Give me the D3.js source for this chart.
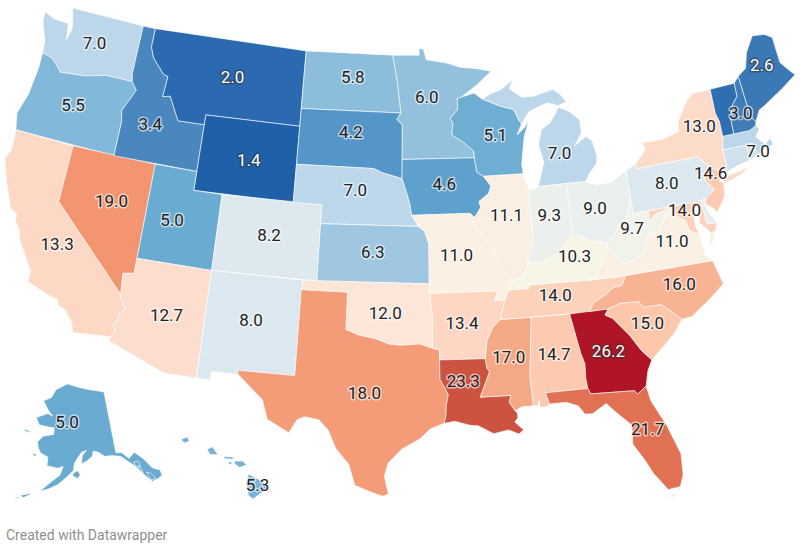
<!DOCTYPE html>
<html><head><meta charset="utf-8">
<script src="https://cdnjs.cloudflare.com/ajax/libs/d3/7.8.5/d3.min.js"></script>
<style>html,body{margin:0;background:#fff}svg{display:block}</style></head><body>
<svg id="c" width="800" height="550"></svg>
<script>
// ---- values ----
const stateCodes=["WA","OR","CA","NV","ID","MT","WY","UT","AZ","CO","NM","ND","SD","NE","KS","OK","TX","MN","IA","MO","AR","LA","WI","IL","MS","MI","IN","KY","TN","AL","OH","WV","GA","FL","SC","NC","VA","PA","NY","NJ","MD","DE","CT","RI","MA","VT","NH","ME","AK","HI"];
const stateValues=[7.0,5.5,13.3,19.0,3.4,2.0,1.4,5.0,12.7,8.2,8.0,5.8,4.2,7.0,6.3,12.0,18.0,6.0,4.6,11.0,13.4,23.3,5.1,11.1,17.0,7.0,9.3,10.3,14.0,14.7,9.0,9.7,26.2,21.7,15.0,16.0,11.0,8.0,13.0,14.6,14.0,9.0,7.6,7.6,7.0,2.2,3.0,2.6,5.0,5.3];
const unlabelled=["DE","CT","RI","VT"];
const colorStops=[1.4,2.0,2.6,3.0,3.4,4.2,5.0,5.5,6.0,7.0,8.0,9.0,10.3,11.0,12.0,13.0,14.0,15.0,16.0,17.0,18.0,19.0,21.7,23.3,26.2];
const colorRange=["#1f60a8","#2b69b0","#3a78b6","#3f7db9","#4a87bf","#5596c8","#6aabd2","#82b8d9","#93c0dd","#bcd7e9","#dbe8ef","#e9efee","#f7f5e6","#faf0e3","#fce6d8","#fddbc9","#fdd2bb","#fcc7ab","#f8b394","#f5a885","#f49c78","#f29570","#e07153","#cb5340","#b01427"];
const whiteText=["MT","WY","ME","GA"];
const labelAnchors={WA:[-120.4,47.5],OR:[-120.75,44.05],CA:[-119.4,36.85],NV:[-116.5,39.65],ID:[-114.95,44],MT:[-109.5,47.2],WY:[-107.5,43],UT:[-112.2,39.3],AZ:[-111.5,34.35],CO:[-105.5,39.2],NM:[-106.1,34.7],ND:[-100.3,47.8],SD:[-100.25,44.9],NE:[-99.75,41.85],KS:[-98.4,38.65],OK:[-97.5,35.5],TX:[-98.7,31.3],MN:[-94.6,46.8],IA:[-93.45,42.2],MO:[-92.75,38.5],AR:[-92.55,34.9],LA:[-92.6,31.9],WI:[-89.6,44.65],IL:[-89.2,40.4],MS:[-89.7,33],MI:[-85.05,43.4],IN:[-86.25,40.25],KY:[-84.85,37.95],TN:[-86.4,36.05],AL:[-86.85,33],OH:[-83.05,40.3],WV:[-80.75,39],GA:[-83.45,32.8],FL:[-81.75,28.5],SC:[-80.75,34],NC:[-78.3,35.7],VA:[-78.25,37.95],PA:[-77.85,41],NY:[-74.75,43.55],NJ:[-74.7,41.05],MD:[-77,39.45],MA:[-71.1,41.55],NH:[-71.6,43.7],ME:[-69.15,45.85],AK:[-156.6,65.5],HI:[-155.4,19.65]};
const footerText="Created with Datawrapper";

// ---- shared borders (lon,lat) ----
const mnwi="-92.01,46.71 -92.29,46.66 -92.29,46.08 -92.88,45.62 -92.68,45.38 -92.77,44.9 -92.8,44.75 -91.9,44.3 -91.25,43.85 -91.22,43.5";
const iawi="-91.1,42.75 -90.64,42.51";
const iail="-90.15,41.98 -90.34,41.6 -91.05,41.2 -90.95,40.9 -91.12,40.7 -91.42,40.38";
const moil="-91.5,40 -90.75,39.25 -90.2,38.8 -90.18,38.4 -89.85,37.9 -89.5,37.3 -89.13,36.98";
const moky="-89.42,36.5 -89.7,36";
const arms="-90.07,35 -90.6,34.6 -91,33.95 -91.17,33";
const lams="-91.1,32.5 -90.95,32.3 -91.6,31 -89.73,31 -89.85,30.65 -89.53,30.18";
const redRiver="-100,34.56 -99.2,34.3 -98.1,34.13 -97.2,33.85 -96.5,33.8 -95.3,33.87 -94.48,33.64";
const coloRiver="-114.63,35 -114.57,34.8 -114.14,34.3 -114.43,34.05 -114.53,33.6 -114.72,33.4 -114.5,33 -114.72,32.72";
const snake="-116.92,46 -116.47,45.6 -117.2,44.4 -117.03,43.8 -117.03,42";
const columbia="-118.98,46 -119.3,45.93 -120.5,45.7 -121.2,45.65 -122.3,45.55 -122.8,45.9 -123.2,46.15 -124,46.27";
const idmt="-116.05,49 -116.05,48 -115.7,47.45 -114.7,46.7 -114.35,46.65 -114.45,45.55 -113.9,45.65 -113.45,45.05 -113,44.45 -111.05,44.48";
const ohioKY="-89.13,36.98 -88.5,37.1 -88.1,37.5 -88.05,37.85 -87.1,37.8 -86.5,38 -85.8,38.25 -85.4,38.7 -84.81,39.1";
const ohioE="-84.81,39.1 -84.3,38.95 -83.7,38.65 -82.6,38.42";
const ohioWV="-82.6,38.42 -82.2,38.6 -81.75,39 -81.7,39.2 -80.87,39.7 -80.52,40.64";
const tnnc="-81.68,36.59 -82,36.1 -82.6,36.05 -83.1,35.77 -84,35.4 -84.32,34.99";
const gaE="-83.1,35 -83.35,34.7 -82.9,34.48 -82,33.5 -81.4,32.6 -80.85,32.03";
const gaAL="-85.6,34.98 -85.18,32.87 -85,32.3 -85.05,31.55 -85,31";
const gaFL="-85,31 -84.86,30.7 -82.2,30.57 -82.05,30.36 -81.45,30.72";
const scnc="-83.1,35 -82.3,35.2 -81.05,35.15 -81.05,35.05 -80.8,34.82 -79.67,34.8 -78.55,33.86";
const vawv="-77.73,39.32 -78.35,39.35 -78.87,38.77 -79.3,38.42 -79.65,38.58 -80.3,37.55 -81.22,37.25 -81.68,37.2 -81.97,37.54 -82.6,38.17";
const mdwv="-77.73,39.32 -77.85,39.6 -78.2,39.68 -78.4,39.62 -79.07,39.47 -79.48,39.2 -79.48,39.72";
const vamd="-76.35,38.05 -76.95,38.3 -77.05,38.7 -77.05,38.85 -77.5,39.1 -77.73,39.32";
const njpa="-74.7,41.36 -75.13,40.97 -75.2,40.68 -74.72,40.15 -75.4,39.8";
const vtnh="-71.5,45.3 -71.55,44.6 -72.05,44.2 -72.4,43.6 -72.45,43 -72.46,42.73";
const wimi="-90.42,46.57 -89.1,46.13 -88.1,45.9 -87.8,45.35 -87.6,45.1";
const rev=s=>s.split(" ").reverse().join(" ");

// ---- state outlines: each entry is a list of rings ----
const shapes={
WA:["-124.73,48.38 -123.9,48.17 -123.1,48.15 -122.75,48.15 -122.55,47.3 -122.35,47.9 -122.5,48.4 -122.76,49 -117.03,49 -117.04,46.42 -116.92,46 "+columbia+" -124.1,46.9 -124.7,47.9"],
OR:["-124,46.27 "+rev(columbia)+" "+snake+" -124.21,42 -124.5,42.85 -124.1,44 -123.95,45.5"],
CA:["-124.21,42 -120,42 -120,39 "+coloRiver+" -117.12,32.53 -117.28,33 -117.9,33.6 -118.4,33.75 -118.5,34.03 -119.2,34.15 -120.6,34.55 -120.65,35.15 -121.9,36.6 -122,36.95 -122.5,37.5 -122.5,37.8 -123,38 -123.8,39.3 -124.35,40.4 -124.1,41"],
NV:["-120,42 -114.04,42 -114.04,36.2 -114.75,36.1 -114.63,35 -120,39"],
ID:["-117.03,49 "+idmt+" -111.05,42 -117.03,42 "+rev(snake)+" -117.04,46.42"],
MT:[idmt+" -111.05,45 -104.05,45 -104.05,49"],
WY:["-111.05,45 -104.05,45 -104.05,41 -111.05,41"],
UT:["-114.04,42 -111.05,42 -111.05,41 -109.05,41 -109.05,37 -114.04,37"],
CO:["-109.05,41 -102.05,41 -102.05,37 -109.05,37"],
AZ:["-114.04,37 -109.05,37 -109.05,31.33 -111.07,31.33 -114.81,32.5 "+rev(coloRiver)+" -114.75,36.1 -114.04,36.2"],
NM:["-109.05,37 -103,37 -103.04,32 -106.62,32 -106.53,31.78 -108.2,31.78 -108.2,31.33 -109.05,31.33"],
TX:["-103.04,36.5 -100,36.5 "+redRiver+" -94.04,33.55 -94.04,32 -93.55,31.2 -93.7,30.6 -93.72,30.1 -93.84,29.7 -94.7,29.4 -95.3,28.9 -96.4,28.35 -97.2,27.6 -97.4,26.9 -97.15,25.96 -97.5,25.85 -98.2,26.07 -99.1,26.4 -99.5,27.5 -100.3,28.3 -100.8,29.25 -101.4,29.77 -102.3,29.88 -102.7,29.7 -103.15,28.98 -104.5,29.6 -104.9,30.6 -106.53,31.78 -106.62,32 -103.04,32"],
OK:["-103,37 -94.62,37 -94.62,36.5 -94.43,35.4 "+rev(redRiver)+" -100,36.5 -103,36.5"],
KS:["-102.05,40 -95.31,40 -94.9,39.75 -94.61,39.11 -94.62,37 -102.05,37"],
NE:["-104.05,43 -98.5,43 -97.9,42.8 -96.45,42.49 -96.1,41.7 -95.9,41.2 -95.77,40.58 -95.31,40 -102.05,40 -102.05,41 -104.05,41"],
SD:["-104.05,45.94 -96.56,45.94 -96.85,45.6 -96.45,45.3 -96.45,42.49 -97.9,42.8 -98.5,43 -104.05,43"],
ND:["-104.05,49 -97.23,49 -96.85,47.6 -96.56,45.94 -104.05,45.94"],
MN:["-97.23,49 -95.15,49 -95.15,49.38 -94.8,49.3 -94.6,48.75 -93,48.55 -92,48.3 -90.8,48.2 -89.6,48 -90.8,47.3 "+mnwi+" -96.45,43.5 -96.45,45.3 -96.85,45.6 -96.56,45.94 -96.85,47.6"],
IA:["-96.45,43.5 -91.22,43.5 "+iawi+" "+iail+" -91.73,40.61 -95.77,40.58 -95.9,41.2 -96.1,41.7 -96.45,42.49"],
MO:["-95.77,40.58 -91.73,40.61 -91.42,40.38 "+moil+" "+moky+" -90.37,36 -90.15,36.5 -94.62,36.5 -94.62,37 -94.61,39.11 -94.9,39.75 -95.31,40"],
AR:["-94.62,36.5 -90.15,36.5 -90.37,36 -89.7,36 "+arms+" -94.04,33.02 -94.04,33.55 -94.48,33.64 -94.43,35.4"],
LA:["-94.04,33.02 -91.17,33 "+lams+" -89.4,30.05 -89.4,29.8 -89.6,29.6 -89.1,29.15 -89.4,28.95 -90,29.2 -90.9,29.05 -91.8,29.5 -92.3,29.55 -93.2,29.78 -93.84,29.7 -93.72,30.1 -93.7,30.6 -93.55,31.2 -94.04,32"],
MS:["-90.07,35 -88.2,35 -88.1,34.9 -88.47,31.9 -88.4,30.37 -89.1,30.37 "+rev(lams)+" -91.17,33 -91,33.95 -90.6,34.6"],
AL:["-88.2,35 "+gaAL+" -87.6,31 -87.42,30.4 -87.52,30.28 -88,30.25 -88,30.7 -88.15,30.35 -88.4,30.37 -88.47,31.9 -88.1,34.9"],
TN:["-89.7,36 -89.42,36.5 -88.07,36.5 -88.07,36.68 -83.68,36.6 "+tnnc+" -85.6,34.98 -88.2,35 -90.07,35"],
GA:["-85.6,34.98 -83.1,35 -83.35,34.7 -82.9,34.48 -82,33.5 -81.4,32.6 -80.85,32.03 -81.2,31.5 -81.45,30.72 -82.05,30.36 -82.2,30.57 -84.86,30.7 -85,31 -85.05,31.55 -85,32.3 -85.18,32.87"],
FL:["-87.6,31 "+gaFL+" -81.3,29.9 -80.6,28.5 -80.05,26.9 -80.13,25.8 -80.4,25.2 -81.1,25.13 -81.8,26.1 -82.2,26.9 -82.75,27.8 -82.65,28.8 -83.4,29.5 -84,30.1 -84.9,29.65 -85.35,29.68 -85.7,30.15 -86.4,30.4 -87.42,30.4","-80.9,24.75 -80.3,25.25 -80.5,25.05 -81.1,24.68"],
SC:[scnc+" -79.2,33.2 -79.9,32.7 "+rev(gaE)],
NC:["-84.32,34.99 -84,35.4 -83.1,35.77 -82.6,36.05 -82,36.1 -81.68,36.59 -75.87,36.55 -75.5,35.25 -76.5,34.65 -77.9,33.9 "+rev(scnc)],
VA:["-83.68,36.6 -81.68,36.59 -75.87,36.55 -76.3,36.95 -76.3,37.5 "+vamd+" "+vawv.split(" ").slice(1).join(" "),"-75.95,37.15 -75.6,37.5 -75.25,38.03 -75.62,37.99"],
WV:[ohioWV+" -80.52,39.72 "+rev(mdwv)+" "+vawv.split(" ").slice(1).join(" ")],
KY:[ohioKY+" "+ohioE+" -82.6,38.17 -81.97,37.54 -83.68,36.6 -88.07,36.68 -88.07,36.5 -89.42,36.5"],
IL:["-90.64,42.51 -87.8,42.49 -87.53,41.72 -87.53,39.35 -87.6,38.7 -88.05,37.85 -88.1,37.5 -88.5,37.1 -89.13,36.98 "+rev(moil)+" -91.42,40.38 "+rev(iail)],
IN:["-87.53,41.72 -87.2,41.62 -86.82,41.76 -84.81,41.76 -84.81,39.1 -85.4,38.7 -85.8,38.25 -86.5,38 -87.1,37.8 -88.05,37.85 -87.6,38.7 -87.53,39.35"],
OH:["-84.81,41.76 -83.45,41.73 -82.7,41.5 -81.7,41.5 -80.52,41.98 "+rev(ohioWV)+" "+rev(ohioE)],
MI:["-86.82,41.76 -84.81,41.76 -83.45,41.73 -83.15,42.1 -82.5,42.6 -82.42,43 -82.6,43.8 -83,44.07 -83.4,43.9 -83.9,43.65 -83.3,44.3 -83.3,45 -84,45.5 -84.75,45.78 -85,45.5 -85.5,45 -86.2,44.7 -86.5,43.9 -86.25,43 -86.6,42.2",wimi+" -87,45.7 -86.3,45.9 -85.5,46.08 -84.75,45.87 -84.1,46 -84.5,46.45 -85,46.75 -86.5,46.5 -87.4,46.5 -88.3,47 -88,47.47 -88.9,47 -89.7,46.83"],
WI:["-92.01,46.71 -91,46.9 "+wimi+" -88,44.55 -87.4,44.9 -87.05,45.25 -87.5,44.4 -87.85,43 -87.8,42.49 -90.64,42.51 "+rev(iawi)+" "+rev(mnwi)],
PA:["-80.52,41.98 -79.76,42.27 -79.76,42 -75.35,42 "+njpa+" -75.79,39.72 -80.52,39.72"],
NY:["-79.76,42.27 -78.9,42.9 -79.05,43.27 -77.5,43.27 -76.3,43.5 -76.2,44 -75.3,44.95 -74.7,45.3 -73.35,45.3 -73.4,44 -73.25,43.55 -73.27,42.75 -73.5,42.05 -73.48,41.2 -73.7,40.85 -73.9,40.9 -74.7,41.36 -75.35,42 -79.76,42","-74,40.4 -73.75,40.67 -72.5,40.8 -71.9,40.87 -72.6,40.6 -73.6,40.38"],
NJ:["-74.7,41.36 -73.9,40.9 -74,40.7 -74.25,40.5 -74,40.4 -74.1,39.75 -74.4,39.4 -74.9,38.95 -75.05,39.2 -75.55,39.5 -75.4,39.8 -74.72,40.15 -75.2,40.68 -75.13,40.97"],
DE:["-75.79,39.72 -75.4,39.8 -75.55,39.5 -75.4,39.05 -75.05,38.45 -75.7,38.46"],
MD:["-79.48,39.72 -75.79,39.72 -75.7,38.46 -75.05,38.45 -75.25,38.03 -75.62,37.99 -75.85,38.3 -76.2,38.6 -76,39.4 -76.1,39.5 -76.45,39.2 -76.5,38.5 "+vamd+" "+mdwv.split(" ").slice(1).join(" ")],
CT:["-73.5,42.05 -71.8,42.02 -71.8,41.2 -72.9,41.05 -73.7,40.85 -73.48,41.2"],
RI:["-71.8,42.02 -71.38,42.02 -71.15,41.4 -71.5,41.27 -71.8,41.2"],
MA:["-73.27,42.75 -72.46,42.73 -71.3,42.7 -70.8,42.87 -70.6,42.65 -71,42.3 -70.65,41.95 -70.5,41.78 -70.05,42.05 -69.95,41.67 -70.65,41.55 -71.15,41.4 -71.38,42.02 -71.8,42.02 -73.5,42.05"],
VT:["-73.35,45.3 "+vtnh+" -73.27,42.75 -73.25,43.55 -73.4,44"],
NH:["-71.5,45.3 -71.08,45.6 -70.98,43.4 -70.7,43.07 -70.8,42.87 -71.3,42.7 "+rev(vtnh)],
ME:["-71.08,45.6 -70.4,45.9 -70.25,46.2 -70,46.7 -69.23,47.46 -68.3,47.35 -67.8,47.07 -67.8,45.7 -67.45,45.3 -67,44.85 -68.2,44.35 -69,44.05 -69.8,43.75 -70.25,43.6 -70.7,43.07 -70.98,43.4"],
AK:["-141,69.65 -141,60.3 -139.2,60.1 -137.5,59 -135.5,59.7 -133.5,58.4 -131.8,56.6 -130,55.9 -130.1,55 -131.5,54.8 -133,54.7 -134.5,56 -136.5,57.8 -137.8,58.5 -139.8,59.6 -142.5,60 -144.5,60 -146.5,60.8 -148,61 -148.3,60.3 -149.8,59.7 -151.8,59.2 -151.4,60.5 -150,61.2 -151.5,61 -152.8,60.2 -153.8,59.4 -154,59 -154.2,58.2 -156.5,57 -158.5,56 -161,55.2 -163,54.8 -161,56 -158,57.5 -157.2,58.8 -158.8,58.5 -162,58.7 -162,60 -164.5,60.5 -165.4,61.2 -166,62 -164.5,63 -161,63.5 -161,64.5 -163,64.5 -166.5,64.6 -168,65.6 -164,66.5 -162,66.2 -164,67 -166.5,68.3 -163.5,69 -162,70.3 -157,71.3 -152,70.8 -148,70.4 -144,70","-154.5,57.5 -153,57 -152.2,57.6 -153,58.2 -154,57.9","-165,54.2 -167,53.4 -168,53.6 -166,54.1","-168,53.5 -169.5,52.85 -168.5,53.1","-171.7,63.5 -169.5,63.4 -168.8,63.2 -170.5,63.2","-167,60.2 -165.5,60.2 -166,59.8","-136.5,58.3 -135,58.2 -135,57.4 -136,57.6","-135.7,57.3 -134.9,57.4 -134.7,56.3 -135,56.6","-133.7,56.3 -132.8,56 -132,55.2 -131.9,54.9 -133.2,55"],
HI:["-155.9,20.25 -155.1,19.85 -154.8,19.5 -155.65,18.92 -155.9,19.1 -156.05,19.75","-156.7,20.95 -156.25,20.95 -156,20.75 -156.4,20.6 -156.7,20.8","-158.28,21.57 -157.98,21.71 -157.65,21.3 -158.1,21.3","-159.78,22.1 -159.4,22.23 -159.3,22 -159.6,21.9","-157.3,21.2 -156.7,21.15 -156.85,21.05 -157.3,21.08","-157.05,20.9 -156.85,20.9 -156.9,20.75 -157.05,20.8"]
};

// ---- projections ----
const rings=c=>shapes[c].map(r=>r.trim().split(/\s+/).map(p=>p.split(",").map(Number)));
const lower=d3.geoAlbers().scale(1).translate([0,0]);
const akRaw=d3.geoConicEqualArea().rotate([154,0]).center([-2,58.5]).parallels([55,65]).scale(1).translate([0,0]);
const hiRaw=d3.geoConicEqualArea().rotate([157,0]).center([-3,19.9]).parallels([8,18]).scale(1).translate([0,0]);
function fit(raw,codes,x0,x1,y0,y1){
  const pts=codes.flatMap(c=>rings(c).flat()).map(p=>raw(p));
  const x=d3.scaleLinear().domain(d3.extent(pts,p=>p[0])).range([x0,x1]);
  const y=d3.scaleLinear().domain(d3.extent(pts,p=>p[1])).range([y0,y1]);
  return ll=>{const p=raw(ll);return [x(p[0]),y(p[1])];};
}
const mainCodes=stateCodes.filter(c=>c!=="AK"&&c!=="HI");
const projMain=fit(lower,mainCodes,5,795,8,498);
const projAK=fit(akRaw,["AK"],13,162,384,499);
const projHI=fit(hiRaw,["HI"],181,268,437,499);
const projFor=c=>c==="AK"?projAK:c==="HI"?projHI:projMain;

const color=d3.scaleLinear().domain(colorStops).range(colorRange).clamp(true);
const svg=d3.select("#c");
const rows=stateCodes.map((code,i)=>({code,value:stateValues[i]}));

const pathFor=c=>{
  const proj=projFor(c);
  const gen=d3.geoPath(d3.geoTransform({point(lon,lat){const p=proj([lon,lat]);this.stream.point(p[0],p[1]);}}));
  return gen({type:"MultiPolygon",coordinates:rings(c).map(r=>[[...r,r[0]]])});
};
svg.append("g").selectAll("path").data(rows).join("path")
  .attr("d",d=>pathFor(d.code))
  .attr("fill",d=>color(d.value))
  .attr("stroke","#fff").attr("stroke-width",0.8).attr("stroke-opacity",0.75).attr("stroke-linejoin","round");

const lab=svg.append("g").attr("font-family","Roboto, sans-serif").attr("font-size",17).attr("text-anchor","middle");
rows.filter(d=>!unlabelled.includes(d.code)).forEach(d=>{
  const p=projFor(d.code)(labelAnchors[d.code]);
  const white=whiteText.includes(d.code);
  lab.append("text").attr("x",p[0]).attr("y",p[1]).attr("dy","0.36em")
    .attr("fill",white?"#fff":"#222")
    .attr("stroke",white?"#333":"#fff").attr("stroke-opacity",white?0.55:0.6)
    .attr("stroke-width",3).attr("stroke-linejoin","round").attr("paint-order","stroke")
    .text(d3.format(".1f")(d.value));
});
svg.append("text").attr("x",6).attr("y",540).attr("font-family","Roboto, sans-serif").attr("font-size",14).attr("fill","#8f8f8f").text(footerText);
</script></body></html>
